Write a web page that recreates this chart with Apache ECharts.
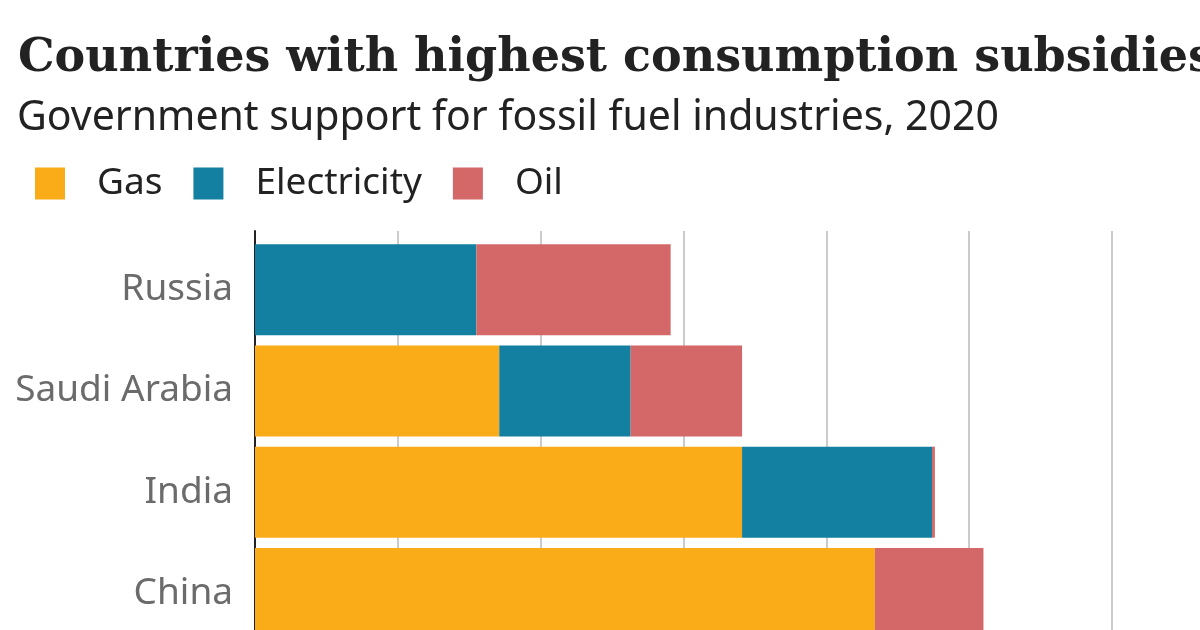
<!DOCTYPE html>
<html>
<head>
<meta charset="utf-8">
<title>Countries with highest consumption subsidies</title>
<script src="https://cdn.jsdelivr.net/npm/echarts@6/dist/echarts.min.js"></script>
<style>
  html, body { margin: 0; padding: 0; background: #fff; }
  #chart { width: 1200px; height: 630px; }
</style>
</head>
<body>
<div id="chart"></div>
<script>
// data, US$ bn (one gridline = 10)
var countries = ['Russia', 'Saudi Arabia', 'India', 'China'];
var gas = [0, 17.1, 34.1, 43.4];
var electricity = [15.5, 9.2, 13.3, 0];
var oil = [13.6, 7.8, 0.2, 7.6];
var xTicks = [0, 10, 20, 30, 40, 50, 60];

var colors = { gas: '#faab18', electricity: '#1380a1', oil: '#d46767' };

var chart = echarts.init(document.getElementById('chart'));

function barSeries(name, values) {
    return {
        name: name,
        type: 'bar',
        stack: 'total',
        barWidth: 91,
        itemStyle: { color: colors[name.toLowerCase()] },
        emphasis: { disabled: true },
        data: values
    };
}

var option = {
    animation: false,
    backgroundColor: '#fff',
    title: [{
        text: 'Countries with highest consumption subsidies',
        left: 13,
        top: 31,
        textStyle: { fontFamily: 'DejaVu Serif', fontWeight: 'bold', fontSize: 46, color: '#222' }
    }, {
        text: 'Government support for fossil fuel industries, 2020',
        left: 12,
        top: 93,
        textStyle: { fontFamily: 'Noto Sans', fontWeight: 'normal', fontSize: 41, color: '#222' }
    }],
    legend: {
        left: 35,
        top: 165,
        padding: 0,
        icon: 'rect',
        itemWidth: 30,
        itemHeight: 32,
        itemGap: 31,
        selectedMode: false,
        textStyle: { fontFamily: 'Noto Sans', fontSize: 37, color: '#222', padding: [0, 0, 0, 27] },
        data: ['Gas', 'Electricity', 'Oil']
    },
    grid: [
        // bars; the last band runs past the bottom edge like in the crop
        { left: 255, right: 88, top: 239, height: 405, containLabel: false, outerBoundsMode: 'none' },
        // gridlines + axis line start a little above the first bar band
        { left: 255, right: 88, top: 231, height: 413, containLabel: false, outerBoundsMode: 'none' }
    ],
    xAxis: [{
        gridIndex: 0,
        type: 'value',
        min: xTicks[0],
        max: xTicks[xTicks.length - 1],
        interval: xTicks[1] - xTicks[0],
        show: false
    }, {
        gridIndex: 1,
        type: 'value',
        min: xTicks[0],
        max: xTicks[xTicks.length - 1],
        interval: xTicks[1] - xTicks[0],
        axisLine: { show: false },
        axisTick: { show: false },
        axisLabel: { show: false },
        splitLine: { show: true, lineStyle: { color: '#cbcbcb', width: 2 } }
    }],
    yAxis: [{
        gridIndex: 0,
        type: 'category',
        inverse: true,
        data: countries,
        axisLine: { show: false },
        axisTick: { show: false },
        axisLabel: { margin: 22, fontFamily: 'Noto Sans', fontSize: 37, color: '#6b6b6b' }
    }, {
        gridIndex: 1,
        type: 'value',
        min: 0,
        max: 1,
        axisLine: { show: true, lineStyle: { color: '#222', width: 2 } },
        axisTick: { show: false },
        axisLabel: { show: false },
        splitLine: { show: false }
    }],
    series: [
        barSeries('Gas', gas),
        barSeries('Electricity', electricity),
        barSeries('Oil', oil)
    ]
};

chart.setOption(option);
</script>
</body>
</html>
